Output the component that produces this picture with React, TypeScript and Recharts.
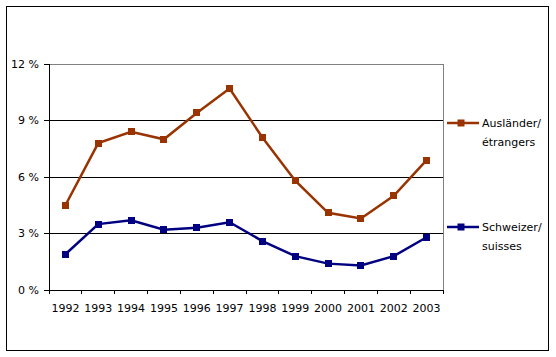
import React from 'react';
import { LineChart, Line, XAxis, YAxis, CartesianGrid } from 'recharts';

const YEARS = ['1992', '1993', '1994', '1995', '1996', '1997', '1998', '1999', '2000', '2001', '2002', '2003'];
const AUSLAENDER = [4.5, 7.8, 8.4, 8.0, 9.4, 10.7, 8.1, 5.8, 4.1, 3.8, 5.0, 6.9];
const SCHWEIZER = [1.9, 3.5, 3.7, 3.2, 3.3, 3.6, 2.6, 1.8, 1.4, 1.3, 1.8, 2.8];
const Y_TICKS = [0, 3, 6, 9, 12];
const GRID_VALUES = [3, 6, 9];
const SERIES_NAMES = ['Ausländer/étrangers', 'Schweizer/suisses'];

const FONT = '"DejaVu Sans", Verdana, sans-serif';
const COLORS = ['#993300', '#000080']; // Excel brown and navy
const HALF_BAND = 16.4;

const data = YEARS.map((year, i) => ({ year, aus: AUSLAENDER[i], ch: SCHWEIZER[i] }));

const series = [
  { key: 'aus', name: SERIES_NAMES[0], color: COLORS[0] },
  { key: 'ch', name: SERIES_NAMES[1], color: COLORS[1] },
];

const SquareDot = (color: string) => (props: any) => {
  const { cx, cy, index } = props;
  if (cx == null || cy == null) return null;
  return <rect key={`d-${index}`} x={cx - 3.5} y={cy - 3.5} width={7} height={7} fill={color} />;
};

const YearTick = (props: any) => {
  const { x, y, payload, index } = props;
  const last = index === YEARS.length - 1;
  return (
    <g>
      <line x1={x - HALF_BAND} x2={x - HALF_BAND} y1={y} y2={y + 4} stroke="#000" />
      {last && <line x1={x + HALF_BAND} x2={x + HALF_BAND} y1={y} y2={y + 4} stroke="#000" />}
      <text x={x} y={y + 22} textAnchor="middle" fill="#000" fontSize={11} fontFamily={FONT}>
        {payload.value}
      </text>
    </g>
  );
};

const LEGEND_Y = [123, 227];

const LegendBox = () => (
  <svg width={556} height={357} style={{ position: 'absolute', left: 0, top: 0, pointerEvents: 'none' }}>
    {series.map((s, i) => {
      const y = LEGEND_Y[i];
      const [first, second] = s.name.split('/');
      return (
        <g key={s.key}>
          <line x1={447} x2={479} y1={y} y2={y} stroke={s.color} strokeWidth={2.5} />
          <rect x={457.5} y={y - 3.5} width={7} height={7} fill={s.color} />
          <text x={482} y={y + 4} fontSize={11} fontFamily={FONT} fill="#000">{first}/</text>
          <text x={482} y={y + 22.5} fontSize={11} fontFamily={FONT} fill="#000">{second}</text>
        </g>
      );
    })}
  </svg>
);

export default function App() {
  return (
    <div style={{ position: 'absolute', left: 0, top: 0, width: 556, height: 357, background: '#fff' }}>
      <div
        style={{
          position: 'absolute',
          left: 6,
          top: 6,
          width: 543,
          height: 345,
          boxSizing: 'border-box',
          border: '1px solid #000',
        }}
      />
      <div style={{ position: 'absolute', left: 0, top: 0, shapeRendering: 'crispEdges' }}>
        <LineChart width={556} height={357} data={data} margin={{ top: 63, right: 112, bottom: 37, left: 6 }}>
          <CartesianGrid vertical={false} stroke="#000" horizontalValues={GRID_VALUES} />
          <XAxis
            dataKey="year"
            height={30}
            padding={{ left: HALF_BAND, right: HALF_BAND }}
            axisLine={{ stroke: '#000' }}
            tickLine={false}
            tickSize={0}
            tickMargin={0}
            interval={0}
            tick={<YearTick />}
          />
          <XAxis
            xAxisId="top"
            orientation="top"
            dataKey="year"
            height={1}
            axisLine={{ stroke: '#808080' }}
            tickLine={false}
            tick={false}
          />
          <YAxis
            width={43}
            domain={[0, 12]}
            ticks={Y_TICKS}
            tickFormatter={(v: number) => `${v} %`}
            axisLine={{ stroke: '#000' }}
            tickLine={{ stroke: '#000' }}
            tickSize={5}
            tickMargin={5}
            tick={{ fill: '#000', fontSize: 11, fontFamily: FONT }}
          />
          <YAxis
            yAxisId="right"
            orientation="right"
            width={1}
            domain={[0, 12]}
            axisLine={{ stroke: '#808080' }}
            tickLine={false}
            tick={false}
          />
          {series.map((s) => (
            <Line
              key={s.key}
              type="linear"
              dataKey={s.key}
              name={s.name}
              stroke={s.color}
              strokeWidth={2.5}
              dot={SquareDot(s.color)}
              activeDot={false}
              isAnimationActive={false}
              style={{ shapeRendering: 'auto' }}
            />
          ))}
        </LineChart>
      </div>
      <LegendBox />
    </div>
  );
}
